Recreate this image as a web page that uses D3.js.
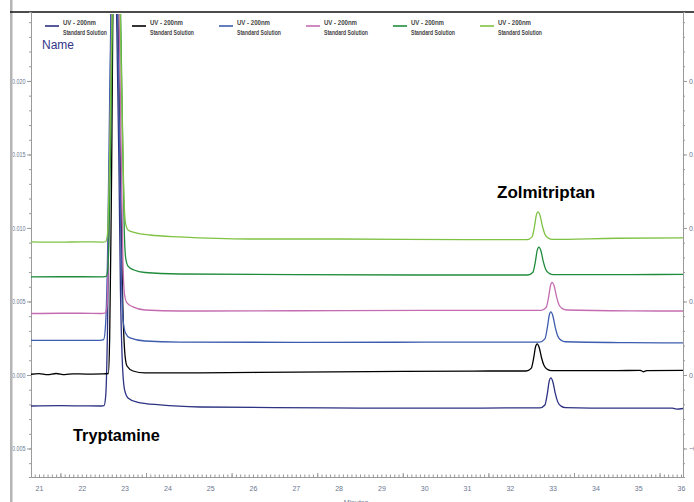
<!DOCTYPE html>
<meta charset="utf-8">
<script src="https://d3js.org/d3.v7.min.js"></script>
<style>
  body { margin: 0; background: #fff; }
  .ax path, .ax line { stroke: #9a9a9a; }
  .ax text { fill: #6a7690; font-family: "Liberation Sans", sans-serif; font-size: 7px; }
</style>
<div id="my_dataviz"></div>
<script>

// chromatogram traces, [minutes, AU]
var navyTrace = [[20.81,-0.00211],[21.5,-0.00209],[22.0,-0.0021],[22.45,-0.00211],[22.52,-0.00208],[22.56,-0.00136],[22.60,0.00306],[22.651,0.01531],[22.729,0.034],[22.819,0.02347],[22.866,0.01463],[22.903,0.00578],[22.945,0.00102],[23.0,-0.00102],[23.079,-0.00156],[23.29,-0.00184],[23.83,-0.00204],[24.76,-0.00218],[26.5,-0.00222],[28.5,-0.00225],[30.5,-0.00226],[32.2,-0.00224],[32.70,-0.00224],[32.82,-0.00204],[32.88,-0.00122],[32.92,-0.00044],[32.96,-0.0002],[33.01,-0.00051],[33.06,-0.00122],[33.12,-0.00183],[33.2,-0.00212],[33.3,-0.00222],[34.5,-0.00226],[35.8,-0.00226],[35.9,-0.00232],[36.05,-0.00228]];
var blackTrace = [[20.81,0.00005],[21.0,0.00009],[21.2,0.00002],[21.4,0.0001],[21.6,0.00003],[21.8,0.00008],[22.1,0.00006],[22.5,0.00007],[22.62,0.0001],[22.65,0.00238],[22.69,0.0119],[22.764,0.034],[22.85,0.02347],[22.905,0.01327],[22.955,0.0051],[23.009,0.00136],[23.056,0.00061],[23.196,0.00027],[23.477,0.00014],[24.76,0.00014],[27,0.0002],[29.5,0.00024],[31.5,0.00027],[32.38,0.00027],[32.50,0.00045],[32.56,0.00119],[32.60,0.00189],[32.64,0.00211],[32.69,0.00183],[32.74,0.00119],[32.80,0.00064],[32.88,0.00038],[32.98,0.00029],[34.5,0.0003],[35.05,0.00031],[35.12,0.00022],[35.2,0.0003],[36.05,0.00031]];
var blueTrace = [[20.81,0.00235],[21.5,0.00236],[22.0,0.00236],[22.42,0.00235],[22.51,0.0024],[22.555,0.0034],[22.60,0.00782],[22.651,0.01871],[22.752,0.034],[22.842,0.02347],[22.885,0.01531],[22.925,0.00714],[22.965,0.00374],[23.021,0.00286],[23.126,0.00252],[23.477,0.00231],[24.29,0.00224],[27,0.00222],[30,0.00223],[32.70,0.00224],[32.82,0.00245],[32.88,0.00327],[32.92,0.00404],[32.96,0.00429],[33.01,0.00398],[33.06,0.00327],[33.12,0.00265],[33.2,0.00236],[33.3,0.00226],[34.8,0.0022],[36.05,0.00218]];
var pinkTrace = [[20.81,0.00418],[21.5,0.0042],[22.0,0.0042],[22.45,0.00418],[22.55,0.00422],[22.59,0.00476],[22.63,0.00986],[22.686,0.02143],[22.787,0.034],[22.877,0.02347],[22.92,0.01531],[22.96,0.00782],[23.0,0.00544],[23.056,0.0049],[23.196,0.00463],[23.477,0.00442],[24.29,0.00435],[27,0.00437],[30,0.0044],[32.73,0.0044],[32.85,0.00459],[32.91,0.00535],[32.95,0.00607],[32.99,0.0063],[33.04,0.00602],[33.09,0.00535],[33.15,0.00478],[33.23,0.00451],[33.33,0.00442],[34.8,0.00436],[36.05,0.00435]];
var greenTrace = [[20.81,0.00667],[21.5,0.00668],[22.0,0.00668],[22.5,0.00667],[22.57,0.0067],[22.61,0.00728],[22.655,0.01259],[22.709,0.02279],[22.822,0.034],[22.913,0.02347],[22.955,0.01599],[22.992,0.00986],[23.025,0.00796],[23.079,0.00741],[23.22,0.00714],[23.477,0.00697],[24.29,0.00687],[27,0.00682],[30,0.0068],[32.42,0.0068],[32.54,0.00699],[32.60,0.00775],[32.64,0.00847],[32.68,0.0087],[32.73,0.00842],[32.78,0.00775],[32.84,0.00718],[32.92,0.00691],[33.02,0.00682],[34.8,0.00683],[36.05,0.00684]];
var lightGreenTrace = [[20.81,0.00905],[21.5,0.00903],[22.0,0.00906],[22.5,0.00904],[22.56,0.00908],[22.60,0.00959],[22.645,0.01395],[22.697,0.02279],[22.811,0.034],[22.901,0.02415],[22.945,0.01735],[22.982,0.01224],[23.025,0.01027],[23.079,0.00986],[23.266,0.00966],[23.593,0.00952],[24.29,0.00939],[25.93,0.00925],[28,0.00925],[31,0.0092],[32.40,0.0092],[32.52,0.00939],[32.58,0.01015],[32.62,0.01087],[32.66,0.0111],[32.71,0.01082],[32.76,0.01015],[32.82,0.00958],[32.9,0.00931],[33.0,0.00922],[34.5,0.0093],[36.05,0.00932]];

var traces = [navyTrace, blackTrace, blueTrace, pinkTrace, greenTrace, lightGreenTrace];
var legendLine1 = ["UV - 200nm","UV - 200nm","UV - 200nm","UV - 200nm","UV - 200nm","UV - 200nm"];
var legendLine2 = ["Standard Solution","Standard Solution","Standard Solution","Standard Solution","Standard Solution","Standard Solution"];
var colors = ["#2d3282", "#000000", "#3d5cae", "#c46cb0", "#1f8c3b", "#7fc243"];

var xTicks = d3.range(21, 37);
var yMajor = [-0.005, 0, 0.005, 0.010, 0.015, 0.020];

var W = 694, H = 502;
var svg = d3.select("#my_dataviz").append("svg")
  .attr("width", W).attr("height", H);

var x = d3.scaleLinear().domain([20.813, 36.047]).range([31, 683]);
var y = d3.scaleLinear().domain([-0.00694, 0.02469]).range([477, 12]);

// outer frame
svg.append("rect").attr("x", 10).attr("y", 0).attr("width", 2.5).attr("height", H).attr("fill", "#b5b5b5");
svg.append("line").attr("x1", 10).attr("x2", W).attr("y1", 12).attr("y2", 12)
  .attr("stroke", "#111").attr("stroke-width", 1.5);

svg.append("clipPath").attr("id", "leftclip").append("rect")
  .attr("x", 12.5).attr("y", 0).attr("width", 40).attr("height", H);

// axes
var fmt = d3.format(".3f");
svg.append("g").attr("class", "ax").attr("transform", "translate(31,0)")
  .call(d3.axisLeft(y).tickValues(d3.range(-6, 25).map(function(i) { return i / 1000; })).tickSize(2).tickFormat(""));
svg.append("g").attr("clip-path", "url(#leftclip)")
  .append("g").attr("class", "ax").attr("transform", "translate(31,0)")
  .call(d3.axisLeft(y).tickValues(yMajor).tickSize(4).tickPadding(1.5).tickFormat(fmt))
  .call(function(g) {
    g.select(".domain").remove();
    g.selectAll("line").attr("stroke", "#333");
    g.selectAll("text")
      .attr("lengthAdjust", "spacingAndGlyphs")
      .attr("textLength", function(d) { return d < 0 ? 16.5 : 13.5; });
  });

svg.append("g").attr("class", "ax").attr("transform", "translate(683,0)")
  .call(d3.axisRight(y).tickValues(d3.range(-6, 25).map(function(i) { return i / 1000; })).tickSize(2).tickFormat(""));
svg.append("g").attr("class", "ax").attr("transform", "translate(683,0)")
  .call(d3.axisRight(y).tickValues(yMajor).tickSize(4).tickPadding(2).tickFormat(fmt))
  .call(function(g) { g.select(".domain").remove(); g.selectAll("line").attr("stroke", "#333"); });

svg.append("g").attr("class", "ax").attr("transform", "translate(0,477)")
  .call(d3.axisBottom(x).tickValues(d3.range(209, 361).map(function(i) { return i / 10; })).tickSize(-2.5).tickFormat(""));
svg.append("g").attr("class", "ax").attr("transform", "translate(0,477)")
  .call(d3.axisBottom(x).tickValues(d3.range(21.5, 36, 2)).tickSize(-4).tickFormat(""))
  .call(function(g) { g.select(".domain").remove(); g.selectAll("line").attr("stroke", "#333"); });
svg.append("g").attr("class", "ax").attr("transform", "translate(0,477)")
  .call(d3.axisBottom(x).tickValues(xTicks).tickSize(0).tickPadding(9).tickFormat(d3.format("d")))
  .call(function(g) { g.select(".domain").remove(); });

svg.append("text").attr("x", 356).attr("y", 505).attr("text-anchor", "middle")
  .attr("font-family", "Liberation Sans, sans-serif")
  .attr("font-size", "7px").attr("fill", "#6a7690").text("Minutes");

// traces
svg.append("clipPath").attr("id", "plotclip").append("rect")
  .attr("x", 31).attr("y", 14).attr("width", 652).attr("height", 463);

var line = d3.line()
  .x(function(d) { return x(d[0]); })
  .y(function(d) { return y(d[1]); })
  .curve(d3.curveMonotoneX);

svg.append("g").attr("clip-path", "url(#plotclip)")
  .selectAll("path").data(traces).enter().append("path")
    .attr("d", line)
    .attr("fill", "none")
    .attr("stroke", function(d, i) { return colors[i]; })
    .attr("stroke-width", 1.3);

// legend
var leg = svg.append("g").selectAll("g").data(legendLine1).enter().append("g")
  .attr("transform", function(d, i) { return "translate(" + (45 + i * 87) + ",0)"; });
leg.append("line").attr("x1", 0).attr("x2", 14).attr("y1", 26).attr("y2", 26)
  .attr("stroke", function(d, i) { return colors[i]; }).attr("stroke-width", 1.6);
leg.append("text").attr("x", 18).attr("y", 25).attr("textLength", 33).text(function(d) { return d; });
leg.append("text").attr("x", 18).attr("y", 35).attr("textLength", 44).text(function(d, i) { return legendLine2[i]; });
leg.selectAll("text")
  .attr("lengthAdjust", "spacingAndGlyphs")
  .attr("font-family", "Liberation Sans, Arial, sans-serif")
  .attr("font-size", "7.5px").attr("font-weight", "bold").attr("fill", "#444");

svg.append("text").attr("x", 42).attr("y", 49).text("Name")
  .attr("font-family", "Liberation Sans, Arial, sans-serif").attr("font-size", "12px").attr("fill", "#33358a");

svg.append("text").attr("x", 497).attr("y", 198).text("Zolmitriptan")
  .attr("font-family", "Liberation Sans, Arial, sans-serif").attr("font-size", "17px").attr("font-weight", "bold");
svg.append("text").attr("x", 73).attr("y", 441).text("Tryptamine")
  .attr("font-family", "Liberation Sans, Arial, sans-serif").attr("font-size", "16.3px").attr("font-weight", "bold");

</script>
